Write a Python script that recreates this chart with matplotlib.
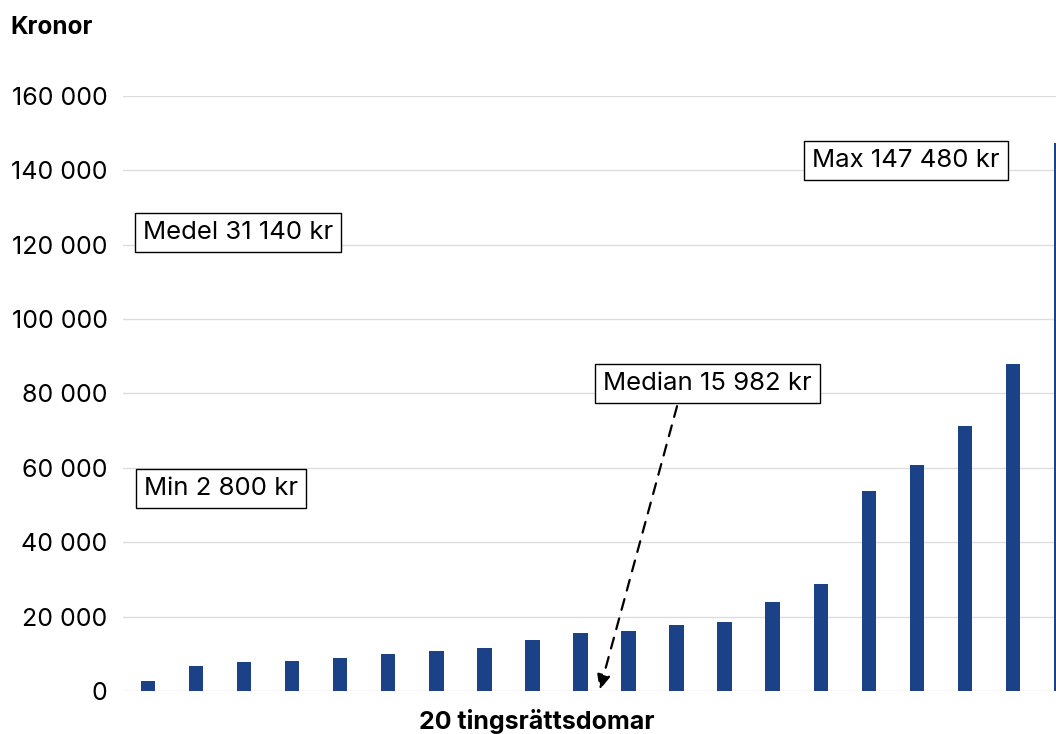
import matplotlib
matplotlib.use("Agg")
import matplotlib.pyplot as plt
from matplotlib.ticker import FuncFormatter

plt.rcParams['font.family'] = ['Inter', 'DejaVu Sans']

# Ersättning per tingsrättsdom, sorterat stigande (kronor)
domar = list(range(1, 21))
kronor = [2800, 6800, 7700, 8100, 9000, 9900, 10700, 11600, 13800, 15700,
          16264, 17700, 18600, 23800, 28700, 53800, 60800, 71300, 88000, 147480]
y_ticks = [0, 20000, 40000, 60000, 80000, 100000, 120000, 140000, 160000]

bar_color = '#1b4186'

fig = plt.figure(figsize=(10.56, 7.34), dpi=100)
ax = fig.add_axes([0.1165, 0.0586, 0.911, 0.8106])

x = [d - 1 for d in domar]
ax.bar(x, kronor, width=0.3, color=bar_color, zorder=3)

ax.set_xlim(-0.52, 19.5)
ax.set_ylim(0, 160000)
ax.set_yticks(y_ticks)
ax.yaxis.set_major_formatter(FuncFormatter(lambda v, p: '{:,.0f}'.format(v).replace(',', ' ')))
ax.tick_params(axis='y', length=0, pad=11, labelsize=18)
ax.set_xticks([])
ax.grid(axis='y', color='#dddddd', lw=1, zorder=0)
for s in ax.spines.values():
    s.set_visible(False)

fig.text(0.0095, 0.963, 'Kronor', fontsize=17.5, fontweight='bold', ha='left', va='center')
fig.text(0.508, 0.017, '20 tingsrättsdomar', fontsize=18, fontweight='bold', ha='center', va='center')

box = dict(boxstyle='square,pad=0.32', facecolor='white', edgecolor='black', lw=1)
ax.text(1.87, 123300, 'Medel 31 140 kr', fontsize=18.5, ha='center', va='center', bbox=box, zorder=5)
ax.text(1.52, 54500, 'Min 2 800 kr', fontsize=18.5, ha='center', va='center', bbox=box, zorder=5)
ax.text(15.78, 142600, 'Max 147 480 kr', fontsize=18.5, ha='center', va='center', bbox=box, zorder=5)
ax.text(11.65, 82700, 'Median 15 982 kr', fontsize=18.5, ha='center', va='center', bbox=box, zorder=5)

ax.annotate('', xy=(9.40, 300), xytext=(11.01, 76600),
            arrowprops=dict(arrowstyle='-|>,head_length=0.9,head_width=0.4', color='black',
                            lw=1.6, linestyle=(0, (5, 4)), shrinkA=0, shrinkB=0), zorder=6)

fig.savefig('out.png', dpi=100)
